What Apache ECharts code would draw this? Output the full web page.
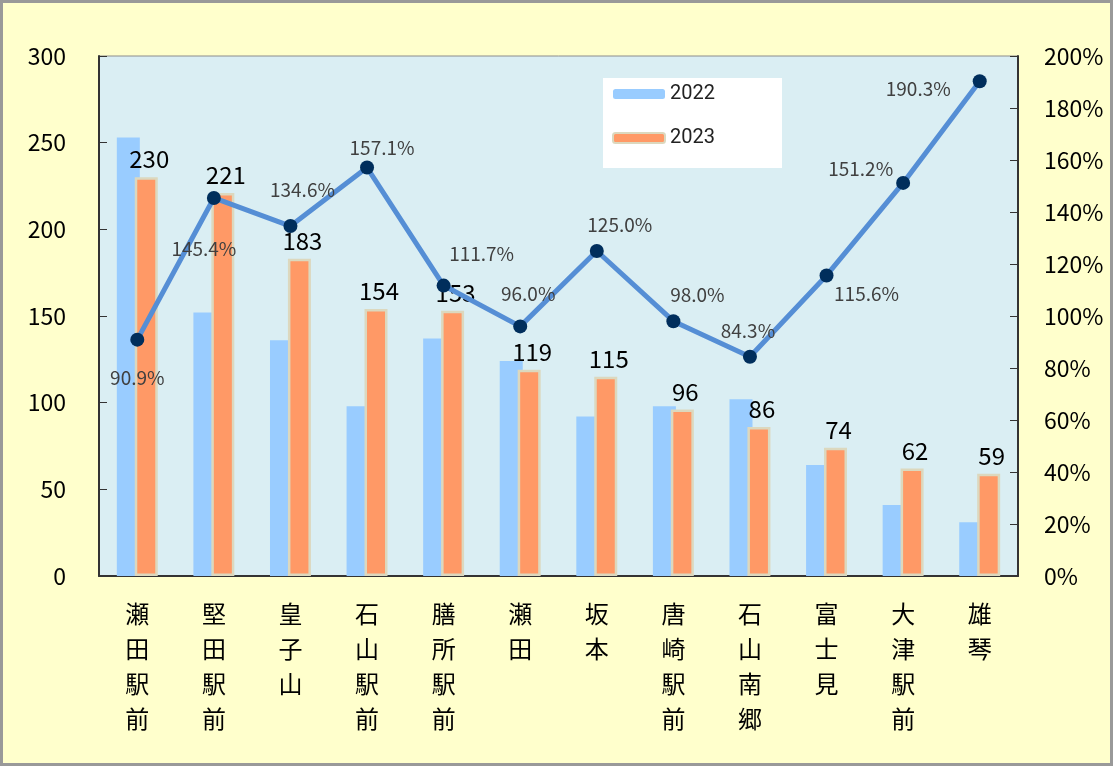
<!DOCTYPE html>
<html>
<head>
<meta charset="utf-8">
<style>
html, body { margin: 0; padding: 0; background: #fff; }
#chart { width: 1113px; height: 766px; }
</style>
<script src="https://cdn.jsdelivr.net/npm/echarts@6/dist/echarts.min.js"></script>
</head>
<body>
<div id="chart"></div>
<script>
// stops
var categories = ['瀬田駅前', '堅田駅前', '皇子山', '石山駅前', '膳所駅前', '瀬田', '坂本', '唐崎駅前', '石山南郷', '富士見', '大津駅前', '雄琴'];
var v2022 = [253, 152, 136, 98, 137, 124, 92, 98, 102, 64, 41, 31];
var v2023 = [230, 221, 183, 154, 153, 119, 115, 96, 86, 74, 62, 59];
var ratio = [90.9, 145.4, 134.6, 157.1, 111.7, 96.0, 125.0, 98.0, 84.3, 115.6, 151.2, 190.3];
var ratioLabelPos = ['bottom', 'bottom', 'top', 'top', 'top', 'top', 'top', 'top', 'top', 'bottom', 'left', 'left'];
var leftTicks = [0, 300, 50];
var rightTicks = [0, 200, 20];

var font = '"Noto Sans CJK JP", "Noto Sans", sans-serif';

// nudges for the percent labels so they sit where the original put them
var ratioLabelOff = [[0, 12], [-10, 24], [12, -10], [15, 7], [38, -5], [8, -6], [23, 0], [24, 0], [-2, 0], [40, -8], [7, -14], [-12, 8]];

var ratioData = ratio.map(function (v, i) {
    return { value: v, label: { position: ratioLabelPos[i], offset: ratioLabelOff[i] } };
});

var chart = echarts.init(document.getElementById('chart'));
chart.setOption({
    backgroundColor: '#FFFFCC',
    textStyle: { fontFamily: font },
    graphic: [{
        type: 'rect',
        shape: { x: 1.5, y: 1.5, width: 1110, height: 763 },
        style: { fill: 'none', stroke: '#999999', lineWidth: 3 },
        silent: true
    }, {
        type: 'rect',
        shape: { x: 603, y: 78, width: 179, height: 90 },
        style: { fill: '#ffffff' },
        silent: true,
        z: 1
    }],
    legend: {
        orient: 'vertical',
        left: 603,
        top: 78,
        padding: [6, 0, 0, 9],
        itemWidth: 52,
        itemHeight: 10,
        itemGap: 24,
        z: 5,
        textStyle: { fontFamily: 'Roboto, sans-serif', fontSize: 20, color: '#222' },
        data: ['2022', '2023']
    },
    grid: {
        left: 99,
        right: 95,
        top: 56,
        bottom: 190,
        show: true,
        backgroundColor: '#DAEEF3',
        borderColor: '#8c8c8c',
        borderWidth: 1
    },
    xAxis: {
        type: 'category',
        data: categories,
        axisLine: { lineStyle: { color: '#333', width: 2 } },
        axisTick: { inside: true, length: 12, lineStyle: { color: '#333' } },
        axisLabel: {
            margin: 20,
            fontSize: 24,
            lineHeight: 35,
            color: '#000',
            formatter: function (s) { return s.split('').join('\n'); }
        }
    },
    yAxis: [{
        type: 'value',
        min: leftTicks[0], max: leftTicks[1], interval: leftTicks[2],
        axisLine: { show: true, lineStyle: { color: '#333', width: 2 } },
        axisTick: { show: true, inside: true, length: 8, lineStyle: { color: '#333' } },
        splitLine: { show: false },
        axisLabel: { fontSize: 23, color: '#000', margin: 33 }
    }, {
        type: 'value',
        min: rightTicks[0], max: rightTicks[1], interval: rightTicks[2],
        axisLine: { show: true, lineStyle: { color: '#333', width: 2 } },
        axisTick: { show: true, inside: true, length: 8, lineStyle: { color: '#333' } },
        splitLine: { show: false },
        axisLabel: { fontSize: 23, color: '#000', margin: 26, formatter: '{value}%' }
    }],
    series: [{
        name: '2022',
        type: 'bar',
        data: v2022,
        barWidth: 23,
        barGap: '-22%',
        itemStyle: { color: '#99CCFF' }
    }, {
        name: '2023',
        type: 'bar',
        data: v2023,
        barWidth: 23,
        itemStyle: { color: '#FF9966', borderColor: '#DCD8BE', borderWidth: 2.5 },
        label: { show: true, position: 'top', fontSize: 24, color: '#000', distance: 6, offset: [3, 0] }
    }, {
        name: 'ratio',
        type: 'line',
        yAxisIndex: 1,
        data: ratioData,
        symbol: 'circle',
        symbolSize: 14,
        lineStyle: { color: '#558ED5', width: 5 },
        itemStyle: { color: '#002E5C' },
        label: {
            show: true,
            fontSize: 19,
            color: '#404040',
            distance: 10,
            formatter: function (p) { return p.value.toFixed(1) + '%'; }
        },
        z: 5
    }]
});
</script>
</body>
</html>
